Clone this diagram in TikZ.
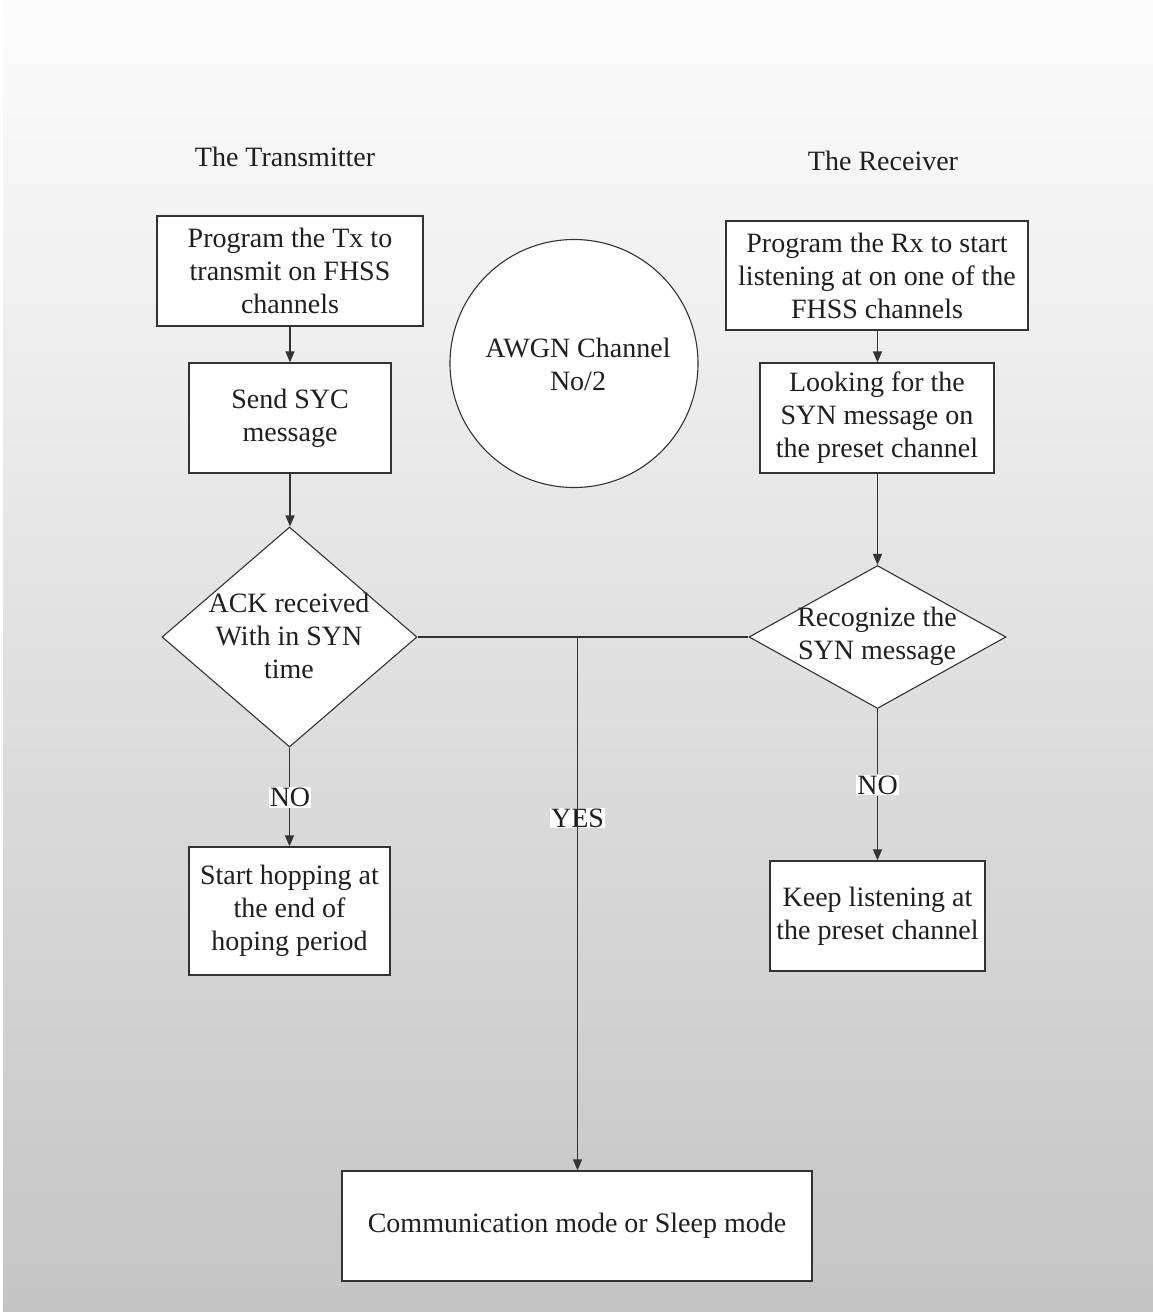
\documentclass[tikz,border=0pt]{standalone}
\usepackage{fontspec}
\setmainfont{Liberation Serif}
\usetikzlibrary{shapes.geometric,arrows.meta}
\begin{document}
\begin{tikzpicture}[x=1pt,y=-1pt,
  every node/.style={font=\fontsize{28}{33}\selectfont, text=black!88},
  box/.style={draw=black!80, line width=1.3pt, fill=white, align=center, inner sep=0pt},
  dia/.style={draw=black!80, line width=1.1pt, fill=white, diamond, inner sep=0pt},
  lab/.style={fill=white, inner sep=1pt},
  conn/.style={draw=black!80, line width=1.4pt},
  arr/.style={conn, -{Triangle[length=11pt,width=9pt]}}]
  % background with top-to-bottom grey shading
  \shade[top color=black!1, bottom color=black!23] (0,0) rectangle (1153,1312);
  \fill[white] (0,0) rectangle (3,1312);
  \useasboundingbox (0,0) rectangle (1153,1312);

  % column titles
  \node (ttx) at (285,157) {The Transmitter};
  \node (trx) at (883,161) {The Receiver};

  % transmitter column
  \node[box, minimum width=266, minimum height=110] (t1) at (290,271)
    {Program the Tx to\\transmit on FHSS\\channels};
  \node[box, minimum width=202, minimum height=110] (t2) at (290,418)
    {Send SYC\\message};
  \node[dia, minimum width=255, minimum height=220] (d1) at (289.5,637) {};
  \node[align=center] (d1t) at (289,636) {ACK received\\With in SYN\\time};
  \node[box, minimum width=201, minimum height=128] (t3) at (289.5,911)
    {Start hopping at\\the end of\\hoping period};

  % channel
  \node[circle, draw=black!80, line width=1.1pt, fill=white, minimum size=248, inner sep=0pt] (ch) at (574,363.5) {};
  \node[align=center] (cht) at (578,364) {AWGN Channel\\No/2};

  % receiver column
  \node[box, minimum width=302, minimum height=109] (r1) at (877,275.5)
    {Program the Rx to start\\listening at on one of the\\FHSS channels};
  \node[box, minimum width=234, minimum height=110] (r2) at (877,418)
    {Looking for the\\SYN message on\\the preset channel};
  \node[dia, minimum width=257, minimum height=143] (d2) at (877.5,637) {};
  \node[align=center] (d2t) at (877,636) {Recognize the\\SYN message};
  \node[box, minimum width=215, minimum height=110] (r3) at (877.5,916)
    {Keep listening at\\the preset channel};

  % common end state
  \node[box, minimum width=470, minimum height=110] (fin) at (577,1226)
    {Communication mode or Sleep mode};

  % branch labels
  \node[lab] (no1) at (290,797.5) {NO};
  \node[lab] (no2) at (877.5,785) {NO};
  \node[lab] (yes) at (577.5,818) {YES};

  % connectors
  \coordinate (j) at (577.5,637);
  \draw[arr] (t1.south) -- (t2.north);
  \draw[arr] (t2.south) -- (t2.south |- d1.north);
  \draw[conn] (d1.south) -- (d1.south |- no1.north);
  \draw[arr] (d1.south |- no1.south) -- (d1.south |- t3.north);
  \draw[arr] (r1.south -| d2.north) -- (r2.north -| d2.north);
  \draw[arr] (r2.south -| d2.north) -- (d2.north);
  \draw[conn] (d2.south) -- (no2.north -| d2.south);
  \draw[arr] (no2.south -| d2.south) -- (r3.north -| d2.south);
  \draw[conn] (d1.east) -- (d2.west);
  \draw[arr] (j) -- (j |- fin.north);
\end{tikzpicture}
\end{document}
